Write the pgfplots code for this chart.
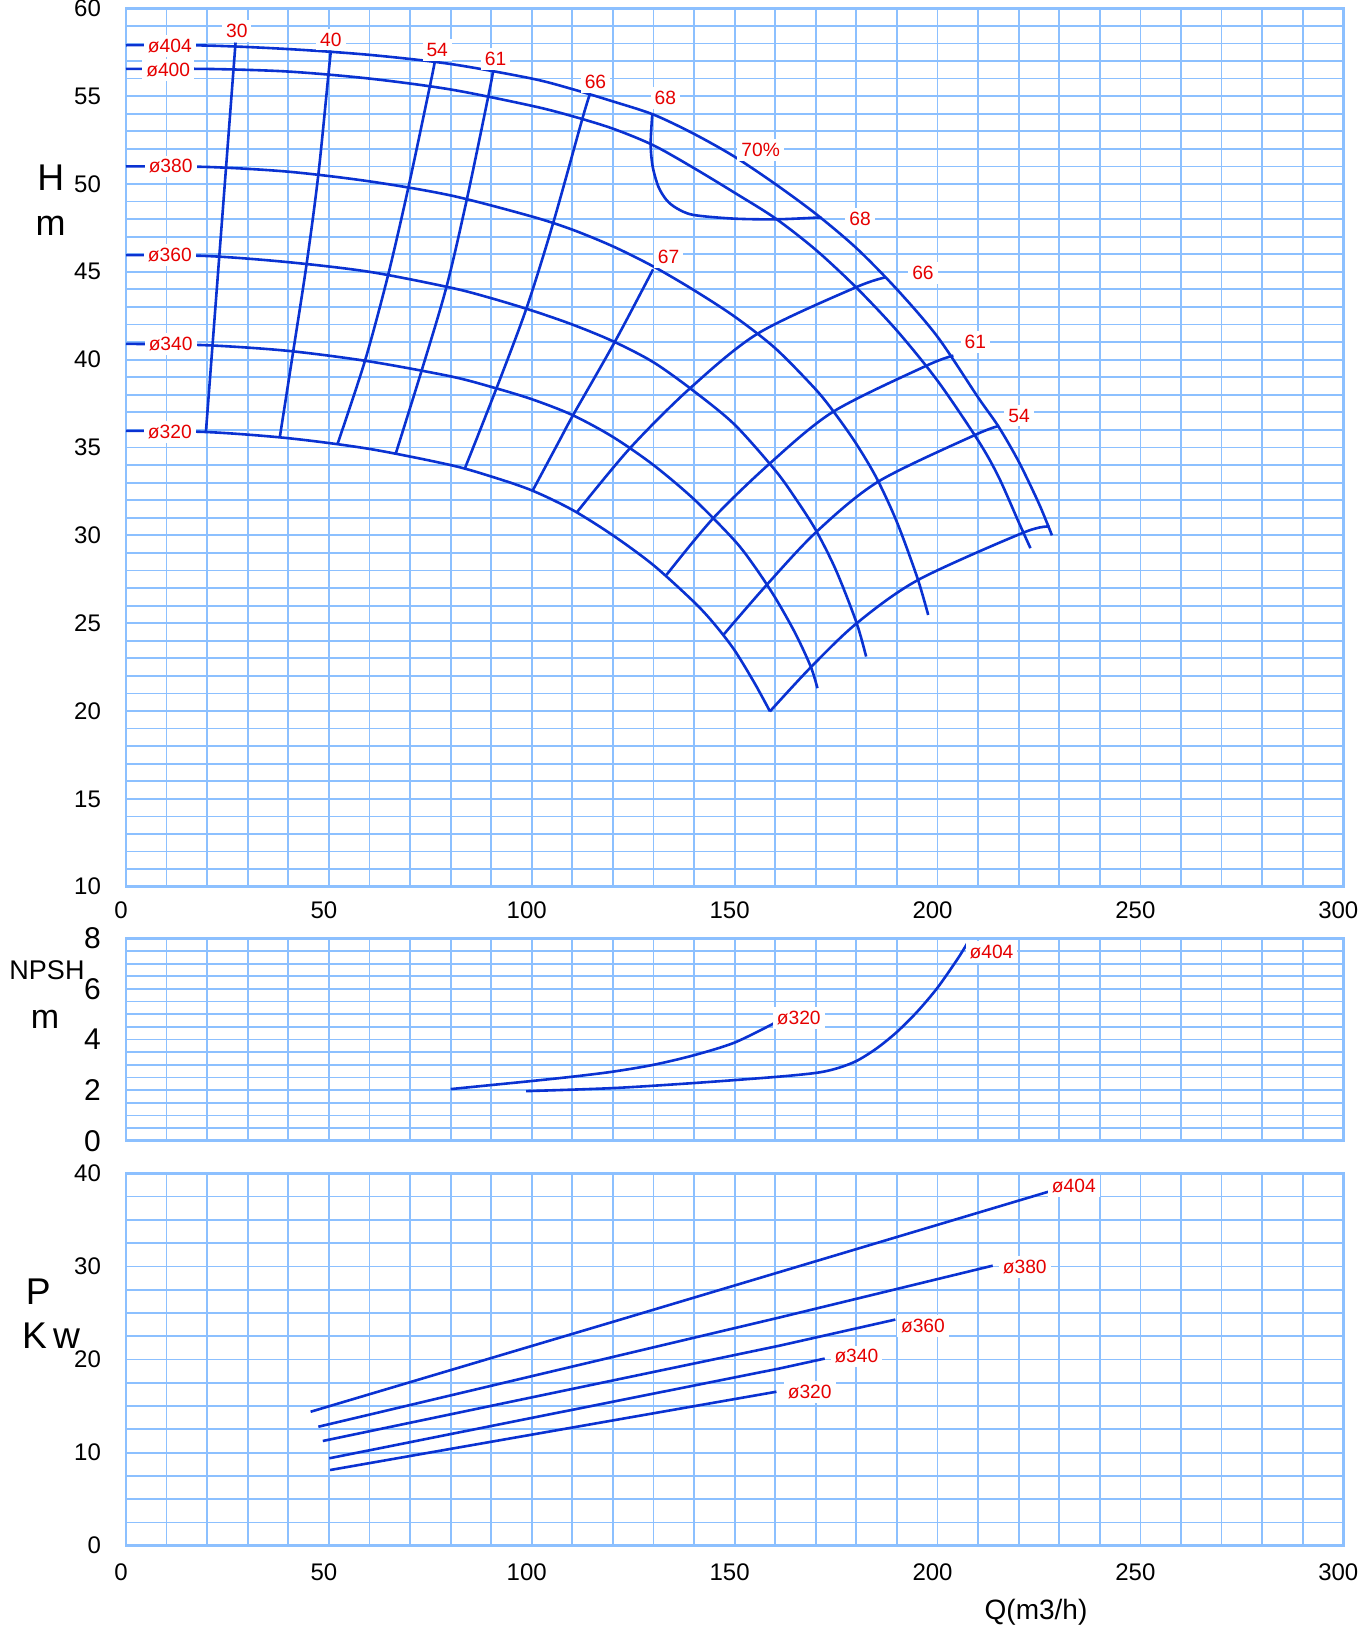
\documentclass[border=0pt]{standalone}
\usepackage{fontspec}
\setmainfont{Liberation Sans}
\usepackage{pgfplots}
\pgfplotsset{compat=1.18}

\definecolor{gridblue}{RGB}{140,192,255}
\definecolor{curveblue}{RGB}{10,50,210}
\definecolor{labred}{RGB}{230,0,0}

\pgfplotsset{
  pump/.style={
    scale only axis, width=608.65pt, xmin=0, xmax=300,
    xtick={0,50,...,300}, minor xtick={0,10,...,300},
    grid=both,
    grid style={gridblue, line width=0.9pt},
    axis line style={gridblue, line width=1.3pt},
    major tick length=0pt, minor tick length=0pt,
    /pgf/number format/assume math mode=true,
    ticklabel style={font=\fontsize{12}{12}\selectfont},
    yticklabel style={xshift=-9pt},
    xticklabel style={yshift=-4pt, xshift=-2.5pt},
    clip=false,
  },
  pc/.style={curveblue, line width=1.3pt, mark=none},
}
\tikzset{lbl/.style={text=labred, fill=white, inner sep=2pt, font=\fontsize{9.6}{10}\selectfont}}

\begin{document}
\begin{tikzpicture}
\path[use as bounding box] (0,0) rectangle (679.5pt,-813.5pt);

% ---------------- H - Q ----------------
\begin{axis}[pump, at={(63pt,-443.35pt)}, anchor=south west, height=439.2pt,
  ymin=10, ymax=60, ytick={10,15,...,60}, minor ytick={10,11,...,60}]
% impeller diameters
\addplot[pc, smooth] coordinates {(0,57.9)(20,57.88)(40,57.68)(60,57.35)(80,56.83)(100,56.0)(110,55.4)(120,54.7)(130,53.95)(140,52.85)(150,51.55)(160,50.0)(170,48.3)(180,46.35)(190,44.0)(200,41.3)(210,37.85)(215,36.2)(220,34.2)(225,31.8)(228.2,30.0)};
\addplot[pc, smooth] coordinates {(0,56.55)(20,56.55)(40,56.4)(60,56.0)(80,55.38)(100,54.45)(110,53.86)(120,53.15)(130,52.2)(140,50.9)(150,49.5)(160,48.05)(170,46.25)(180,44.1)(190,41.65)(200,38.8)(210,35.4)(215,33.35)(220,30.75)(222.9,29.27)};
\addplot[pc, smooth] coordinates {(0,51.0)(20,50.97)(40,50.7)(60,50.15)(80,49.35)(100,48.15)(110,47.4)(120,46.45)(130,45.3)(140,43.95)(150,42.45)(160,40.65)(170,38.3)(175,36.85)(180,35.2)(185,33.25)(190,30.75)(195,27.6)(197.7,25.47)};
\addplot[pc, smooth] coordinates {(0,45.95)(20,45.9)(40,45.55)(60,45.0)(80,44.1)(90,43.5)(100,42.8)(110,42.0)(120,41.05)(130,39.85)(140,38.2)(150,36.3)(160,33.7)(165,32.1)(170,30.3)(175,28.0)(180,25.05)(182.4,23.1)};
\addplot[pc, smooth] coordinates {(0,40.9)(20,40.82)(40,40.5)(60,39.9)(80,39.05)(90,38.45)(100,37.75)(110,36.85)(120,35.6)(130,34.0)(140,32.05)(150,29.7)(155,28.2)(160,26.45)(165,24.4)(168.8,22.5)(170.4,21.3)};
\addplot[pc, smooth] coordinates {(0,35.95)(20,35.88)(40,35.53)(60,34.92)(80,34.0)(90,33.35)(100,32.56)(110,31.45)(120,30.0)(130,28.3)(140,26.2)(145,24.95)(150,23.45)(155,21.55)(158.7,19.98)};
% efficiency lines
\addplot[pc] coordinates {(19.7,35.9)(27.0,58.05)};
\addplot[pc, smooth] coordinates {(37.9,35.58)(41.2,40.46)(44.5,45.43)(47.4,50.53)(49.9,56.26)(50.5,57.6)};
\addplot[pc, smooth] coordinates {(52.1,35.18)(58.9,39.94)(64.6,44.82)(69.6,49.81)(74.9,55.58)(76.1,56.96)};
\addplot[pc, smooth] coordinates {(66.5,34.67)(72.9,39.41)(79.0,44.16)(84.0,49.13)(89.3,55.01)(90.5,56.45)};
\addplot[pc, smooth] coordinates {(83.5,33.8)(91.3,38.37)(98.7,42.93)(105.3,47.8)(112.5,53.74)(114.3,55.1)};
\addplot[pc, smooth] coordinates {(100.2,32.54)(106.9,35.43)(110.2,36.85)(120.5,41.03)(129.9,45.14)};
\addplot[pc, smooth] coordinates {(129.7,53.97)(129.3,52.28)(129.8,50.99)(131.2,49.85)(133.2,49.09)(135.7,48.62)(139.8,48.24)(149.7,48.03)(160.3,47.99)(171.4,48.1)};
\addplot[pc, smooth] coordinates {(111.1,31.31)(124.2,34.96)(139.0,38.37)(155.8,41.5)(179.9,44.12)(187.3,44.69)};
\addplot[pc, smooth] coordinates {(133.2,27.75)(144.7,30.97)(158.7,34.1)(174.3,37.04)(197.3,39.66)(203.9,40.23)};
\addplot[pc, smooth] coordinates {(147.2,24.33)(157.9,27.18)(170.2,30.21)(185.4,33.06)(209.2,35.71)(215.2,36.23)};
\addplot[pc, smooth] coordinates {(158.7,19.98)(168.8,22.5)(180.1,25.0)(195.2,27.46)(221.1,30.15)(227.6,30.5)};
% labels
\node[lbl] at (10.8,57.87) {ø404};
\node[lbl] at (10.4,56.5) {ø400};
\node[lbl] at (11.0,51.0) {ø380};
\node[lbl] at (10.8,45.97) {ø360};
\node[lbl] at (11.0,40.9) {ø340};
\node[lbl] at (10.8,35.9) {ø320};
\node[lbl] at (27.3,58.71) {30};
\node[lbl] at (50.5,58.22) {40};
\node[lbl] at (76.7,57.63) {54};
\node[lbl] at (91.1,57.10) {61};
\node[lbl] at (115.7,55.79) {66};
\node[lbl] at (132.9,54.91) {68};
\node[lbl] at (156.4,51.94) {70\%};
\node[lbl] at (180.9,48.0) {68};
\node[lbl] at (133.7,45.84) {67};
\node[lbl] at (196.4,44.92) {66};
\node[lbl] at (209.3,41.0) {61};
\node[lbl] at (220.1,36.82) {54};
\end{axis}

% ---------------- NPSH - Q ----------------
\begin{axis}[pump, at={(63pt,-570.35pt)}, anchor=south west, height=101.2pt,
  ymin=0, ymax=8, ytick={0,2,...,8}, minor ytick={0,0.5,...,8}, xticklabels={},
  yticklabel style={font=\fontsize{15}{15}\selectfont}]
\addplot[pc, smooth] coordinates {(80,2.04)(90,2.2)(100,2.36)(110,2.53)(120,2.73)(130,3.0)(140,3.38)(150,3.88)(159.8,4.65)};
\addplot[pc, smooth] coordinates {(98.6,1.96)(120,2.08)(140,2.28)(160,2.52)(170,2.68)(175,2.85)(180,3.15)(185,3.65)(190,4.3)(195,5.1)(200,6.05)(205,7.2)(207.5,7.85)};
\node[lbl] at (165.8,4.84) {ø320};
\node[lbl] at (213.3,7.45) {ø404};
\end{axis}

% ---------------- P - Q ----------------
\begin{axis}[pump, at={(63pt,-772.85pt)}, anchor=south west, height=186.2pt,
  ymin=0, ymax=40, ytick={0,10,...,40}, minor ytick={0,2.5,...,40},
  xticklabel style={yshift=-1.5pt}]
\addplot[pc] coordinates {(45.5,14.39)(120.1,24.06)(227.3,38.02)};
\addplot[pc] coordinates {(47.4,12.78)(161.2,24.53)(213.6,30.08)};
\addplot[pc] coordinates {(48.5,11.25)(161.2,21.5)(189.6,24.29)};
\addplot[pc] coordinates {(50.1,9.39)(161.2,19.05)(172.2,20.1)};
\addplot[pc] coordinates {(50.3,8.13)(160.3,16.54)};
\node[lbl] at (233.6,38.67) {ø404};
\node[lbl] at (221.5,29.97) {ø380};
\node[lbl] at (196.4,23.6) {ø360};
\node[lbl] at (180.0,20.33) {ø340};
\node[lbl] at (168.5,16.54) {ø320};
\end{axis}

% axis titles
\node[font=\fontsize{18.6}{20}\selectfont] at (25.4pt,-89pt) {H};
\node[font=\fontsize{18}{20}\selectfont] at (25.25pt,-113pt) {m};
\node[font=\fontsize{13.5}{15}\selectfont] at (23.5pt,-485.2pt) {NPSH};
\node[font=\fontsize{17}{18}\selectfont] at (22.5pt,-509.5pt) {m};
\node[font=\fontsize{18.6}{20}\selectfont] at (19.2pt,-645.9pt) {P};
\node[font=\fontsize{18.6}{20}\selectfont] at (25.5pt,-667.8pt) {K\,w};
\node[font=\fontsize{14}{16}\selectfont] at (518pt,-806pt) {Q(m3/h)};
\end{tikzpicture}
\end{document}
